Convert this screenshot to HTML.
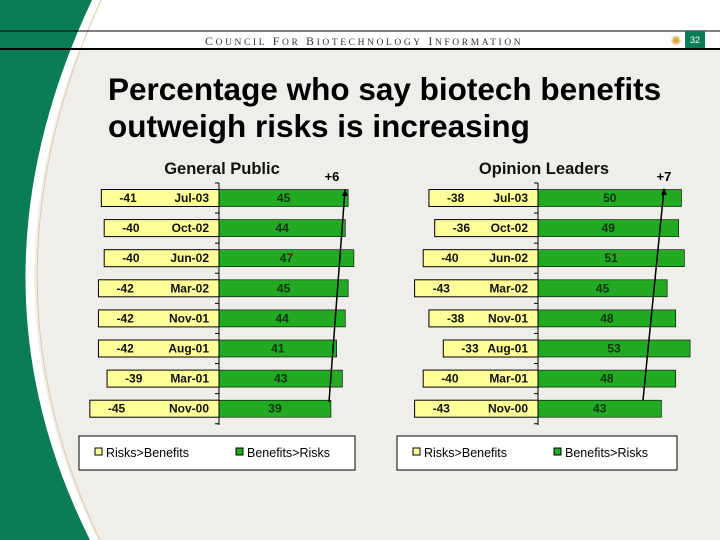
<!DOCTYPE html>
<html><head><meta charset="utf-8"><style>
body{margin:0;width:720px;height:540px;overflow:hidden;background:#fff;font-family:"Liberation Sans",sans-serif}
svg{display:block}
</style></head><body>
<svg width="720" height="540" xmlns="http://www.w3.org/2000/svg">
<rect width="720" height="540" fill="#efeeea"/>
<rect x="0" y="0" width="720" height="49" fill="#fff"/>
<path d="M0,0 L100,0 Q-30,280 98,540 L0,540 Z" fill="#ffffff"/>
<path d="M101,0 Q-26,280 100,540" fill="none" stroke="#e0c9a8" stroke-width="1"/>
<path d="M0,0 L92,0 Q-40,280 90,540 L0,540 Z" fill="#0b7c58"/>
<line x1="0" y1="31" x2="720" y2="31" stroke="#000" stroke-width="1"/>
<line x1="0" y1="49" x2="720" y2="49" stroke="#000" stroke-width="2"/>
<text x="205" y="45" font-family="Liberation Serif,serif" font-size="12" letter-spacing="2.6" fill="#333">C<tspan font-size="9.5">OUNCIL</tspan> F<tspan font-size="9.5">OR</tspan> B<tspan font-size="9.5">IOTECHNOLOGY</tspan> I<tspan font-size="9.5">NFORMATION</tspan></text>
<text x="676" y="45" font-size="13" fill="#d9a440" text-anchor="middle">✺</text>
<rect x="685" y="31" width="20" height="17" fill="#0b7c58"/>
<text x="695" y="43" font-size="9" fill="#fff" text-anchor="middle">32</text>
<text x="108" y="100" font-size="31.5" font-weight="bold" fill="#000">Percentage who say biotech benefits</text>
<text x="108" y="137" font-size="31.5" font-weight="bold" fill="#000">outweigh risks is increasing</text>
<g id="charts"></g>
</svg>
<script>
const categories = ["Jul-03","Oct-02","Jun-02","Mar-02","Nov-01","Aug-01","Mar-01","Nov-00"];
const publicRisks = [-41,-40,-40,-42,-42,-42,-39,-45];
const publicBenefits = [45,44,47,45,44,41,43,39];
const leaderRisks = [-38,-36,-40,-43,-38,-33,-40,-43];
const leaderBenefits = [50,49,51,45,48,53,48,43];
const changeLabels = ["+6","+7"];
const NS="http://www.w3.org/2000/svg";
const root=document.getElementById('charts');
function mk(t,a,p){const e=document.createElementNS(NS,t);for(const k in a)e.setAttribute(k,a[k]);(p||root).appendChild(e);return e;}
const k=2.87, rowY0=198, rowStep=30.1, barH=17;
function y(i){return rowY0+i*rowStep;}
function drawChart(axisX,title,titleX,risks,bens,chg,chgX,legX,legW,arrow){
  const g=mk('g',{});
  
  
  const t=mk('text',{x:titleX,y:174,'font-size':16.5,'font-weight':'bold','text-anchor':'middle',fill:'#111','stroke':'none'},g);t.textContent=title;
  
  
  categories.forEach((c,i)=>{
    const yy=y(i);
    const rw=-risks[i]*k, bw=bens[i]*k;
    const r=mk('rect',{x:axisX-rw,y:yy-barH/2,width:rw,height:barH,fill:'#ffff99',stroke:'#000','stroke-width':1},g);
    
    
    const b=mk('rect',{x:axisX,y:yy-barH/2,width:bw,height:barH,fill:'#22aa22',stroke:'#000','stroke-width':0.6},g);
    
    
    const rv=mk('text',{x:axisX-rw+18,y:yy+4,'font-size':12,'font-weight':'bold','text-anchor':'start',fill:'#111'},g);rv.textContent=risks[i];
    
    
    const cl=mk('text',{x:axisX-10,y:yy+4,'font-size':12,'font-weight':'bold','text-anchor':'end',fill:'#111'},g);cl.textContent=c;
    
    
    const bv=mk('text',{x:axisX+bw/2,y:yy+4,'font-size':12,'font-weight':'bold','text-anchor':'middle',fill:'#113311'},g);bv.textContent=bens[i];
    
    
  });
  const ax=mk('line',{x1:axisX,y1:183,x2:axisX,y2:425,stroke:'#000','stroke-width':1},g);
  
  
  for(let i=0;i<=categories.length;i++){
    const ty=y(i)-rowStep/2;
    const tk=mk('line',{x1:axisX-4,y1:ty,x2:axisX,y2:ty,stroke:'#000'},g);
    
    
  }
  const ar=mk('line',{x1:arrow[0],y1:arrow[1],x2:arrow[2],y2:arrow[3],stroke:'#000','stroke-width':1.5},g);
  
  
  const ah=mk('polygon',{points:`${arrow[2]-3},${arrow[3]+6} ${arrow[2]+3},${arrow[3]+6} ${arrow[2]},${arrow[3]-1}`,fill:'#000'},g);
  
  
  const cx=mk('text',{x:chgX,y:181,'font-size':13,'font-weight':'bold','text-anchor':'middle'},g);cx.textContent=chg;
  
  
  const lg=mk('rect',{x:legX,y:436,width:legW,height:34,fill:'#fff',stroke:'#000'},g);
  
  
  const s1=mk('rect',{x:legX+16,y:448,width:7,height:7,fill:'#ffff99',stroke:'#000'},g);
  
  
  const l1=mk('text',{x:legX+27,y:457,'font-size':12.5},g);l1.textContent='Risks>Benefits';
  
  
  const s2=mk('rect',{x:legX+157,y:448,width:7,height:7,fill:'#22aa22',stroke:'#000'},g);
  
  
  const l2=mk('text',{x:legX+168,y:457,'font-size':12.5},g);l2.textContent='Benefits>Risks';
  
  
}
drawChart(219,'General Public',222,publicRisks,publicBenefits,changeLabels[0],332,79,276,[329,402,345,190]);
drawChart(538,'Opinion Leaders',544,leaderRisks,leaderBenefits,changeLabels[1],664,397,280,[643,400,664,189]);
</script>
</body></html>
